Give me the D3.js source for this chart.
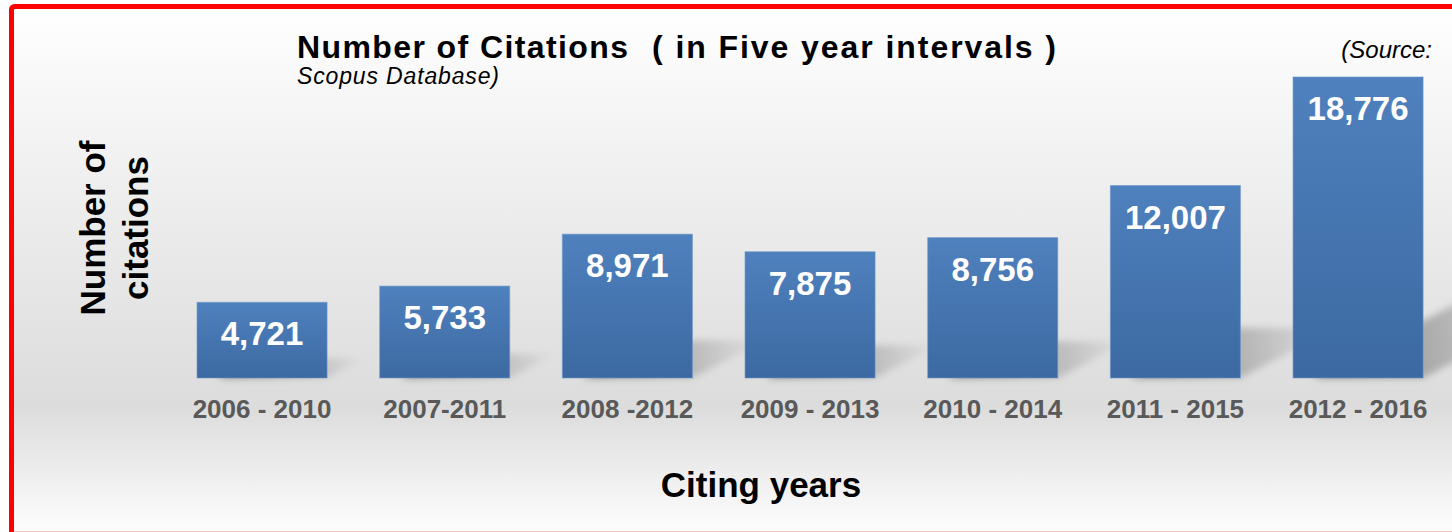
<!DOCTYPE html>
<html>
<head>
<meta charset="utf-8">
<script src="https://cdn.jsdelivr.net/npm/d3@7"></script>
<style>
  html, body { margin: 0; padding: 0; background: #ffffff; }
  svg { display: block; }
  text { font-family: "Liberation Sans", Arial, sans-serif; }
</style>
</head>
<body>
<svg id="chart" width="1452" height="532"></svg>
<script>
const categories = ["2006 - 2010", "2007-2011", "2008 -2012", "2009 - 2013", "2010 - 2014", "2011 - 2015", "2012 - 2016"];
const citations = [4721, 5733, 8971, 7875, 8756, 12007, 18776];
const valueLabels = ["4,721", "5,733", "8,971", "7,875", "8,756", "12,007", "18,776"];
const titleMain = "Number of Citations";
const titleSub = "( in Five year intervals )";
const sourceLine1 = "(Source:";
const sourceLine2 = "Scopus Database)";
const yTitleLines = ["Number of", "citations"];
const xTitle = "Citing years";

const W = 1452, H = 532;
const svg = d3.select("#chart");
const defs = svg.append("defs");

// background gradient
const bg = defs.append("linearGradient").attr("id", "bgGrad")
  .attr("x1", 0).attr("y1", 0).attr("x2", 0).attr("y2", 1);
bg.append("stop").attr("offset", "0%").attr("stop-color", "#ffffff");
bg.append("stop").attr("offset", "22%").attr("stop-color", "#f4f4f4");
bg.append("stop").attr("offset", "75%").attr("stop-color", "#dcdcdc");
bg.append("stop").attr("offset", "100%").attr("stop-color", "#ffffff");

// bar gradient
const bg2 = defs.append("linearGradient").attr("id", "barGrad")
  .attr("x1", 0).attr("y1", 0).attr("x2", 0).attr("y2", 1);
bg2.append("stop").attr("offset", "0%").attr("stop-color", "#4f81be");
bg2.append("stop").attr("offset", "100%").attr("stop-color", "#3c69a1");

// shadow gradient and blur
const sg = defs.append("linearGradient").attr("id", "shGrad")
  .attr("x1", 0).attr("y1", 0).attr("x2", 1).attr("y2", 0);
sg.append("stop").attr("offset", "0%").attr("stop-color", "#000").attr("stop-opacity", 0.42);
sg.append("stop").attr("offset", "100%").attr("stop-color", "#000").attr("stop-opacity", 0.0);
defs.append("filter").attr("id", "blur").attr("x", "-20%").attr("y", "-20%").attr("width", "140%").attr("height", "140%")
  .append("feGaussianBlur").attr("stdDeviation", 3.5);

// background inside border
svg.append("rect").attr("x", 12).attr("y", 7).attr("width", W).attr("height", H)
  .attr("fill", "url(#bgGrad)");

// scales
const x = d3.scaleBand().domain(categories).range([170.7, 1449.4])
  .paddingInner(0.288).paddingOuter(0.144);
const y = d3.scaleLinear().domain([0, 18776]).range([378, 77]);

const data = categories.map((c, i) => ({ c, v: citations[i], label: valueLabels[i] }));

// shadows
const shadowG = svg.append("g").attr("filter", "url(#blur)");
shadowG.selectAll("polygon").data(data).join("polygon")
  .attr("points", d => {
    const x0 = x(d.c), x1 = x(d.c) + x.bandwidth();
    const b = y(0), h = y(0) - y(d.v);
    const dx = 0.5 * h, dy = 0.26 * h;
    return [[x0 + 20, b], [x1, b], [x1 + dx, b - dy], [x0 + 20 + dx, b - dy]].map(p => p.join(",")).join(" ");
  })
  .attr("fill", "url(#shGrad)");

// bars
svg.append("g").selectAll("rect").data(data).join("rect")
  .attr("x", d => x(d.c))
  .attr("y", d => y(d.v))
  .attr("width", x.bandwidth())
  .attr("height", d => y(0) - y(d.v))
  .attr("fill", "url(#barGrad)")
  .attr("stroke", "#6b96cb")
  .attr("stroke-opacity", 0.6)
  .attr("stroke-width", 1);

// value labels
svg.append("g").selectAll("text").data(data).join("text")
  .attr("x", d => x(d.c) + x.bandwidth() / 2)
  .attr("y", d => y(d.v) + 43)
  .attr("text-anchor", "middle")
  .attr("fill", "#ffffff")
  .attr("font-weight", "bold")
  .attr("font-size", 33)
  .text(d => d.label);

// x axis (labels only)
const xAxis = d3.axisBottom(x).tickSize(0).tickPadding(0);
const gx = svg.append("g").attr("transform", "translate(0,400)").call(xAxis);
gx.select(".domain").remove();
gx.selectAll("text")
  .attr("dy", null)
  .attr("y", 18)
  .attr("fill", "#595959")
  .attr("font-family", "Liberation Sans, Arial, sans-serif")
  .attr("font-weight", "bold")
  .attr("font-size", 26);

// x title
svg.append("text").attr("x", 761).attr("y", 497)
  .attr("text-anchor", "middle").attr("font-weight", "bold").attr("font-size", 35)
  .attr("fill", "#000").text(xTitle);

// y title
const yt = svg.append("text").attr("transform", "translate(105,228) rotate(-90)")
  .attr("text-anchor", "middle").attr("font-weight", "bold").attr("font-size", 35).attr("fill", "#000");
yt.selectAll("tspan").data(yTitleLines).join("tspan")
  .attr("x", 0).attr("y", (d, i) => i * 43).text(d => d);

// title
svg.append("text").attr("x", 297).attr("y", 58).attr("font-weight", "bold").attr("font-size", 32)
  .attr("fill", "#000").attr("textLength", 331).attr("lengthAdjust", "spacing").text(titleMain);
svg.append("text").attr("x", 652).attr("y", 58).attr("font-weight", "bold").attr("font-size", 32)
  .attr("fill", "#000").attr("textLength", 404).attr("lengthAdjust", "spacing").text(titleSub);

// source
svg.append("text").attr("x", 1432).attr("y", 58).attr("text-anchor", "end")
  .attr("font-style", "italic").attr("font-size", 24).attr("fill", "#000").text(sourceLine1);
svg.append("text").attr("x", 297).attr("y", 84)
  .attr("font-style", "italic").attr("font-size", 23).attr("fill", "#000")
  .attr("textLength", 202).attr("lengthAdjust", "spacing").text(sourceLine2);

// red border
svg.append("rect").attr("x", 11.5).attr("y", 6.5).attr("width", W + 20).attr("height", 534.2 - 6.5)
  .attr("rx", 3).attr("fill", "none").attr("stroke", "#ff0000").attr("stroke-width", 5);
</script>
</body>
</html>
